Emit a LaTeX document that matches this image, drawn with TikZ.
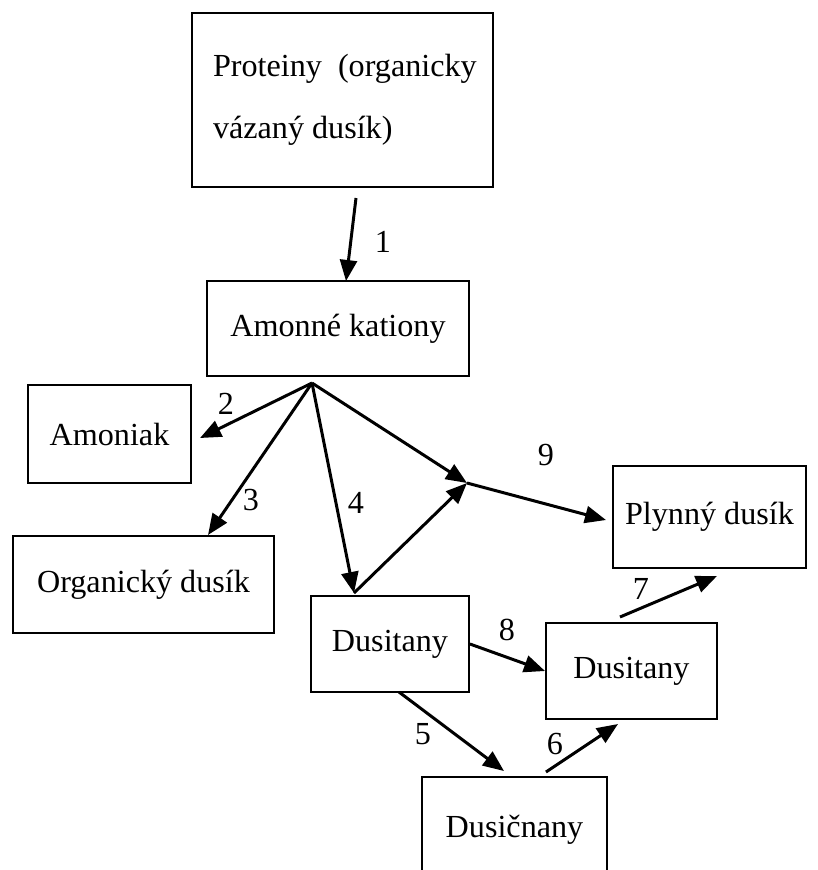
\documentclass[tikz,border=0pt]{standalone}
\usepackage{fontspec}
\setmainfont{Liberation Serif}
\usetikzlibrary{arrows.meta, positioning}

\begin{document}
\begin{tikzpicture}[x=0.02cm, y=-0.02cm,
    box/.style={rectangle, draw, line width=1.1pt, inner sep=0pt, font=\fontsize{18.3}{22}\selectfont},
    num/.style={inner sep=0pt, font=\fontsize{18.3}{22}\selectfont},
    arr/.style={line width=1.7pt, -{Triangle[length=0.42cm, width=0.34cm]}}
]
\useasboundingbox (0,0) rectangle (818,870);

% boxes
\node[box, minimum width=6.02cm, minimum height=3.48cm, text width=5.6cm, align=flush left] (prot) at (342.5,100)
    {\hspace*{0.21cm}Proteiny\ \ (organicky\\[13pt]\hspace*{0.21cm}vázaný dusík)};
\node[box, minimum width=5.24cm, minimum height=1.90cm] (amon) at (338,328.5) {Amonné kationy};
\node[box, minimum width=3.26cm, minimum height=1.96cm] (amoniak) at (109.5,434) {Amoniak};
\node[box, minimum width=5.22cm, minimum height=1.94cm] (orgdus) at (143.5,584.5) {Organický dusík};
\node[box, minimum width=3.16cm, minimum height=1.92cm] (dusitL) at (390,644) {Dusitany};
\node[box, minimum width=3.42cm, minimum height=1.92cm] (dusitR) at (631.5,671) {Dusitany};
\node[box, minimum width=3.70cm, minimum height=2.12cm] (dusic) at (514.5,830) {Dusičnany};
\node[box, minimum width=3.86cm, minimum height=2.04cm] (plyn) at (709.5,517) {Plynný dusík};

% free ends of the arrows
\coordinate (p1) at (356,198);
\coordinate (a1) at (346,281);
\coordinate (src) at (312,383);
\coordinate (a2) at (200,438);
\coordinate (a3) at (208,535);
\coordinate (a4) at (354,593);
\coordinate (jn) at (467,483);
\coordinate (a9) at (606,520);
\coordinate (p5) at (399,692);
\coordinate (a5) at (504,771);
\coordinate (p6) at (546,772);
\coordinate (a6) at (618,724);
\coordinate (p7) at (620,617);
\coordinate (a7) at (717,576);

% arrows
\draw[arr] (p1) -- (a1);
\draw[arr] (src) -- (a2);
\draw[arr] (src) -- (a3);
\draw[arr] (src) -- (a4);
\draw[arr] (src) -- (jn);
\draw[arr] (a4) -- (jn);
\draw[arr] (jn) -- (a9);
\draw[arr] (dusitL.east) -- (dusitR.west);
\draw[arr] (p5) -- (a5);
\draw[arr] (p6) -- (a6);
\draw[arr] (p7) -- (a7);

% numbers
\node[num] (n1) at (383,242) {1};
\node[num] (n2) at (226,404) {2};
\node[num] (n3) at (251,500) {3};
\node[num] (n4) at (356,503) {4};
\node[num] (n5) at (423,734) {5};
\node[num] (n6) at (555,744) {6};
\node[num] (n7) at (641,589) {7};
\node[num] (n8) at (507,630) {8};
\node[num] (n9) at (546,455) {9};
\end{tikzpicture}
\end{document}
